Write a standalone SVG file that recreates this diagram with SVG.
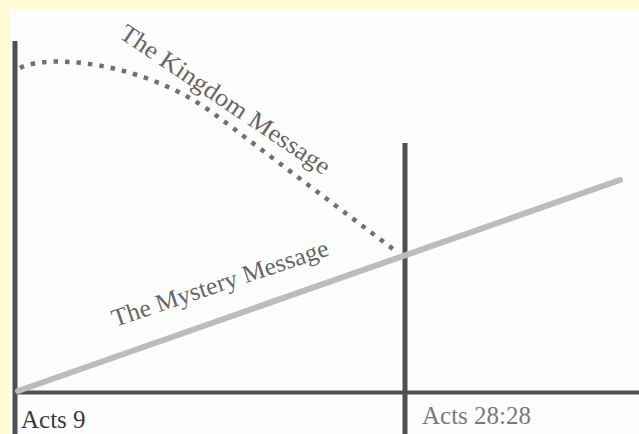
<svg xmlns="http://www.w3.org/2000/svg" width="639" height="434" viewBox="0 0 639 434">
<style>
.axis{stroke:#505050;fill:none}
.lbl{font-family:"Liberation Serif","Times New Roman",serif;font-size:25px}
</style>
<rect x="0" y="0" width="639" height="434" fill="#FEFAD6"/>
<rect x="9" y="9" width="630" height="425" fill="#FDFDFD"/>
<g id="connectors">
  <line class="axis" x1="15" y1="41" x2="15" y2="434" stroke-width="5"/>
  <line class="axis" x1="405" y1="143" x2="405" y2="434" stroke-width="5"/>
  <line class="axis" x1="15" y1="392.5" x2="639" y2="392.5" stroke-width="4" stroke="#454545"/>
  <path id="kingdom-curve" d="M20,68 C45,54 140,60 213,113 L397,252" fill="none" stroke="#707070" stroke-width="4.5" stroke-dasharray="4.5 7"/>
  <line id="mystery-line" x1="18" y1="391" x2="620" y2="180" stroke="#bcbcbc" stroke-width="6" stroke-linecap="round"/>
</g>
<g id="kingdom-label">
  <text class="lbl" fill="#666" transform="translate(118,37) rotate(34)" textLength="248" lengthAdjust="spacingAndGlyphs">The Kingdom Message</text>
</g>
<g id="mystery-label">
  <text class="lbl" fill="#666" transform="translate(115,327) rotate(-18.5)" textLength="227" lengthAdjust="spacingAndGlyphs">The Mystery Message</text>
</g>
<g id="acts9">
  <text class="lbl" x="21" y="428" fill="#3a3a3a">Acts 9</text>
</g>
<g id="acts2828">
  <text class="lbl" x="422" y="424" fill="#7a7a7a">Acts 28:28</text>
</g>
</svg>
